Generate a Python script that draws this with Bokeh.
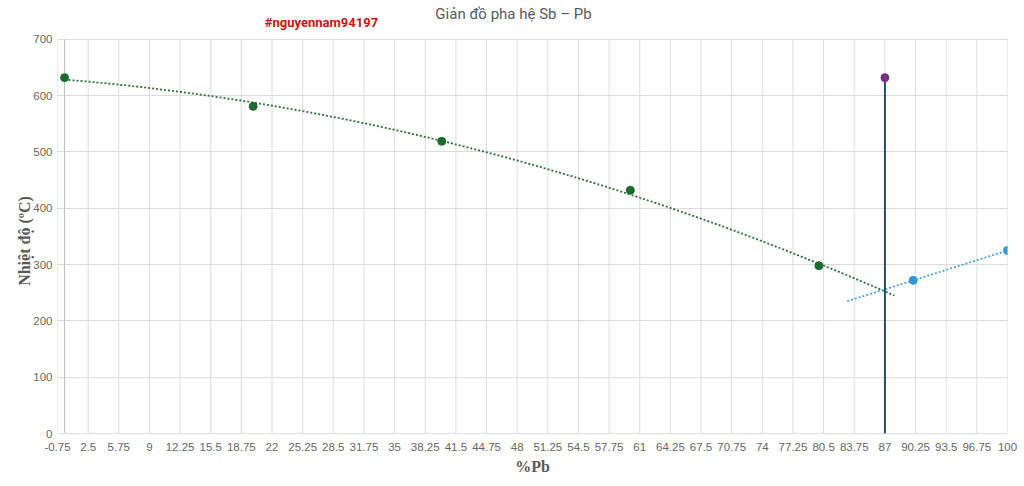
import numpy as np
from bokeh.plotting import figure
from bokeh.models import FixedTicker, Label, Range1d
from bokeh.embed import file_html
from bokeh.resources import INLINE

# ---- data ----
pb_liquidus_sb = [0, 20, 40, 60, 80]
t_liquidus_sb = [632, 581, 519, 432, 298]
pb_liquidus_pb = [90, 100]
t_liquidus_pb = [272, 325]
pb_eutectic = [87]
t_eutectic_top = [632]
x_tick_values = [-0.75 + 3.25 * i for i in range(32)]
x_tick_labels = ["-0.75", "2.5", "5.75", "9", "12.25", "15.5", "18.75", "22", "25.25",
                 "28.5", "31.75", "35", "38.25", "41.5", "44.75", "48", "51.25", "54.5",
                 "57.75", "61", "64.25", "67.5", "70.75", "74", "77.25", "80.5", "83.75",
                 "87", "90.25", "93.5", "96.75", "100"]
y_tick_values = [0, 100, 200, 300, 400, 500, 600, 700]
title_text = "Giản đồ pha hệ Sb – Pb"
tag_text = "#nguyennam94197"
x_label = "%Pb"
y_label = "Nhiệt độ (ºC)"

GREEN = "#1d6b2f"
BLUE = "#3399cc"
PURPLE = "#7a2e8c"
VLINE = "#1f4e6f"
GRID = "#dcdcdc"
TXT = "#666666"

Y_TOP = 700
Y_VIEW_END = 769  # headroom above the 700 gridline for the titles

p = figure(width=1020, height=484, output_backend="svg", toolbar_location=None,
           x_range=Range1d(-0.75, 100), y_range=Range1d(0, Y_VIEW_END),
           min_border_left=57, min_border_right=13, min_border_top=0, min_border_bottom=51)
p.outline_line_color = None
p.background_fill_color = "white"

p.xaxis.ticker = FixedTicker(ticks=x_tick_values)
p.xaxis.major_label_overrides = {v: s for v, s in zip(x_tick_values, x_tick_labels)}
p.yaxis.ticker = FixedTicker(ticks=y_tick_values)
for ax in (p.xaxis[0], p.yaxis[0]):
    ax.axis_line_color = None
    ax.major_tick_line_color = None
    ax.minor_tick_line_color = None
    ax.major_tick_out = 0
    ax.major_tick_in = 0
    ax.major_label_text_font = "Liberation Sans"
    ax.major_label_text_font_size = "11.5px"
    ax.major_label_text_color = TXT
    ax.axis_label_text_font = "Liberation Serif"
    ax.axis_label_text_font_style = "bold"
    ax.axis_label_text_font_size = "16px"
    ax.axis_label_text_color = "#595959"
p.xaxis.major_label_standoff = 9
p.yaxis.major_label_standoff = 5
p.xaxis.axis_label = x_label
# trailing non-collapsing spaces shift the visible label down to the centre of the 0-700 area
p.yaxis.axis_label = y_label + "\u2003\u2003\u00a0\u00a0\u00a0\u00a0"
p.xaxis.axis_label_standoff = 4
p.yaxis.axis_label_standoff = -3

p.xgrid.grid_line_color = None
p.ygrid.grid_line_color = GRID
p.ygrid.grid_line_width = 1

# vertical gridlines only up to the 700 line
n = len(x_tick_values)
p.segment(x0=x_tick_values, y0=[0] * n, x1=x_tick_values, y1=[Y_TOP] * n,
          line_color=GRID, line_width=1)
# baselines
p.segment(x0=[0], y0=[0], x1=[0], y1=[Y_TOP], line_color="#bdbdbd", line_width=1)
p.segment(x0=[x_tick_values[0]], y0=[0], x1=[x_tick_values[-1]], y1=[0],
          line_color="#bdbdbd", line_width=1)

# trendlines (fitted from data)
c2 = np.polyfit(pb_liquidus_sb, t_liquidus_sb, 2)
xs_g = np.linspace(0, 88, 200)
p.line(xs_g, np.polyval(c2, xs_g), line_color="#2f6f3c", line_width=1.8, line_dash="2 2")
c1 = np.polyfit(pb_liquidus_pb, t_liquidus_pb, 1)
xs_b = np.linspace(83, 100, 50)
p.line(xs_b, np.polyval(c1, xs_b), line_color="#4aa3d6", line_width=1.8, line_dash="2 2")

# eutectic vertical line
p.segment(x0=pb_eutectic, y0=[0], x1=pb_eutectic, y1=t_eutectic_top, line_color=VLINE, line_width=2)

p.scatter(pb_liquidus_sb, t_liquidus_sb, size=8, color=GREEN)
p.scatter(pb_liquidus_pb, t_liquidus_pb, size=8, color=BLUE)
p.scatter(pb_eutectic, t_eutectic_top, size=8, color=PURPLE)

# titles (inside the frame headroom)
p.add_layout(Label(x=456, y=420, x_units="screen", y_units="screen", text=title_text,
                   text_font="Roboto", text_font_size="15px", text_color="#595959",
                   text_align="center", text_baseline="middle"))
p.add_layout(Label(x=264, y=411, x_units="screen", y_units="screen", text=tag_text,
                   text_font="Roboto", text_font_style="bold", text_font_size="13px",
                   text_color="#cc1111", text_align="center", text_baseline="middle"))

open("out.html", "w").write(file_html(p, INLINE))
